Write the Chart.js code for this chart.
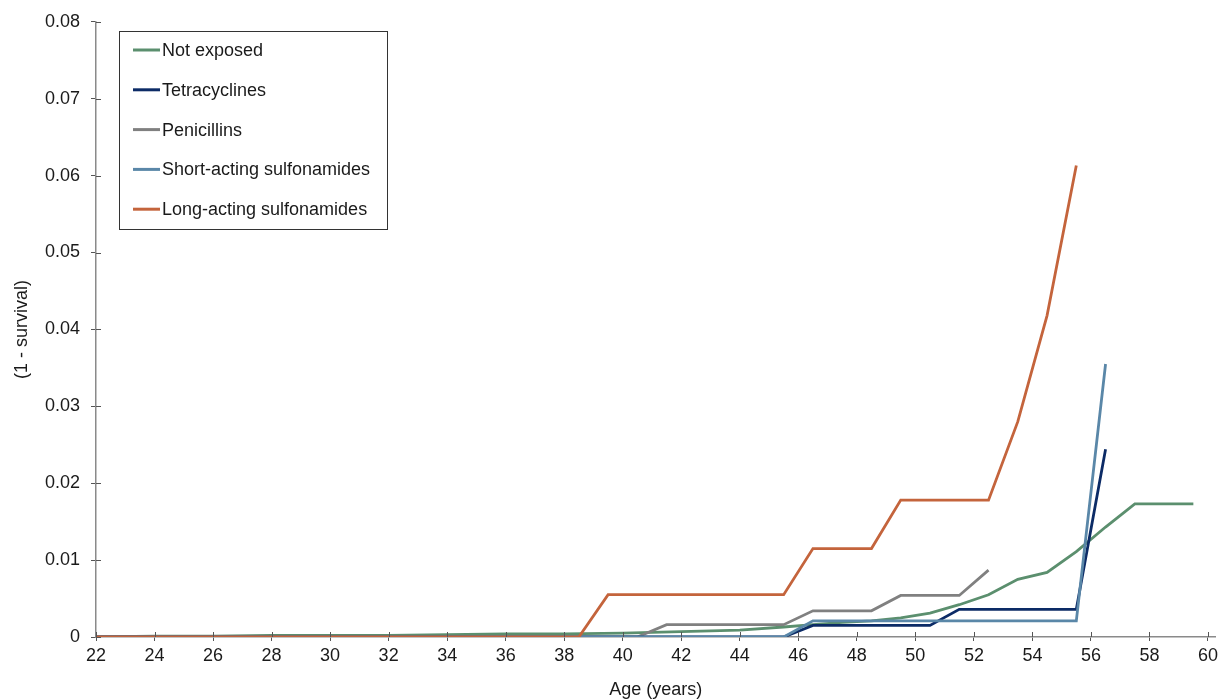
<!DOCTYPE html>
<html>
<head>
<meta charset="utf-8">
<script src="https://cdn.jsdelivr.net/npm/chart.js@4"></script>
<style>
  html, body { margin: 0; padding: 0; background: #fff; }
  #wrap { width: 1222px; height: 699px; position: relative; }
</style>
</head>
<body>
<div id="wrap"><canvas id="survival"></canvas></div>
<script>
// ---- data ----
const xTicks = [22, 24, 26, 28, 30, 32, 34, 36, 38, 40, 42, 44, 46, 48, 50, 52, 54, 56, 58, 60];

const notExposedAges = [22, 24, 26, 28, 30, 32, 34, 36, 38, 40, 42, 44, 45.5, 46.5, 47.5, 48.5, 49.5, 50.5, 51.5, 52.5, 53.5, 54.5, 55.5, 56.5, 57.5, 58.5, 59.5];
const notExposed = [0, 0.0001, 0.0001, 0.0002, 0.0002, 0.0002, 0.0003, 0.0004, 0.0004, 0.0005, 0.0007, 0.0009, 0.0013, 0.0016, 0.0019, 0.0021, 0.0025, 0.0031, 0.0042, 0.0055, 0.0075, 0.0084, 0.0111, 0.0143, 0.0173, 0.0173, 0.0173];

const tetraAges = [22, 45.5, 46.5, 50.5, 51.5, 55.5, 56.5];
const tetracyclines = [0, 0, 0.0015, 0.0015, 0.0036, 0.0036, 0.0244];

const peniAges = [22, 40.5, 41.5, 45.5, 46.5, 48.5, 49.5, 51.5, 52.5];
const penicillins = [0, 0, 0.0016, 0.0016, 0.0034, 0.0034, 0.0054, 0.0054, 0.0087];

const shortAges = [22, 45.5, 46.5, 55.5, 56.5];
const shortSulfa = [0, 0, 0.0021, 0.0021, 0.0355];

const longAges = [22, 38.5, 39.5, 45.5, 46.5, 48.5, 49.5, 52.5, 53.5, 54.5, 55.5];
const longSulfa = [0, 0, 0.0055, 0.0055, 0.0115, 0.0115, 0.0178, 0.0178, 0.0280, 0.0418, 0.0613];

const seriesLabels = ['Not exposed', 'Tetracyclines', 'Penicillins', 'Short-acting sulfonamides', 'Long-acting sulfonamides'];

const pts = (xs, ys) => xs.map((x, i) => ({ x, y: ys[i] }));
const FONT = 'Liberation Sans, Arial, sans-serif';
const AXIS = '#8a8a8a';
const TICK = '#555555';

// ticks that cross the axis line (outer half comes from Chart.js grid ticks)
const innerTicks = {
    id: 'innerTicks',
    afterDraw(chart) {
        const { ctx, chartArea, scales } = chart;
        ctx.save();
        ctx.strokeStyle = TICK;
        ctx.lineWidth = 1;
        ctx.beginPath();
        scales.x.ticks.forEach(t => {
            const px = Math.round(scales.x.getPixelForValue(t.value)) + 0.5;
            ctx.moveTo(px, chartArea.bottom);
            ctx.lineTo(px, chartArea.bottom - 5);
        });
        scales.y.ticks.forEach(t => {
            const py = Math.round(scales.y.getPixelForValue(t.value)) + 0.5;
            ctx.moveTo(chartArea.left, py);
            ctx.lineTo(chartArea.left + 5, py);
        });
        ctx.stroke();
        ctx.restore();
    }
};

// boxed legend inside the plot
const boxLegend = {
    id: 'boxLegend',
    afterDraw(chart) {
        const { ctx } = chart;
        const x0 = 119.5, y0 = 31.5, w = 268, h = 198;
        ctx.save();
        ctx.fillStyle = '#fff';
        ctx.fillRect(x0, y0, w, h);
        ctx.strokeStyle = '#333';
        ctx.lineWidth = 1;
        ctx.strokeRect(x0, y0, w, h);
        ctx.font = '18px ' + FONT;
        ctx.textBaseline = 'middle';
        ctx.textAlign = 'left';
        chart.data.datasets.forEach((ds, i) => {
            const y = 50 + i * 39.8;
            ctx.strokeStyle = ds.borderColor;
            ctx.lineWidth = 3;
            ctx.beginPath();
            ctx.moveTo(133, y);
            ctx.lineTo(160, y);
            ctx.stroke();
            ctx.fillStyle = '#1a1a1a';
            ctx.fillText(ds.label, 162, y + 1);
        });
        ctx.restore();
    }
};

const colors = ['#5b8f6e', '#0c2b66', '#808080', '#5a87a8', '#c4643c'];
const drawOrder = [4, 2, 3, 1, 0];
const dataSets = [
    pts(notExposedAges, notExposed),
    pts(tetraAges, tetracyclines),
    pts(peniAges, penicillins),
    pts(shortAges, shortSulfa),
    pts(longAges, longSulfa)
];

new Chart(document.getElementById('survival'), {
    type: 'line',
    data: {
        datasets: dataSets.map((d, i) => ({
            label: seriesLabels[i],
            data: d,
            borderColor: colors[i],
            backgroundColor: colors[i],
            borderWidth: 2.8,
            pointRadius: 0,
            tension: 0,
            fill: false,
            order: drawOrder[i]
        }))
    },
    options: {
        responsive: true,
        maintainAspectRatio: false,
        animation: false,
        layout: { padding: { top: 21, right: 0, left: 0, bottom: 0 } },
        scales: {
            x: {
                type: 'linear',
                min: 22, max: 60.25,
                afterBuildTicks: s => { s.ticks = xTicks.map(v => ({ value: v })); },
                afterFit: s => { s.height = 62; },
                border: { display: true, color: AXIS, width: 1.5 },
                grid: { display: true, drawOnChartArea: false, drawTicks: true, tickLength: 4, color: TICK },
                ticks: { color: '#1a1a1a', font: { family: FONT, size: 18 }, padding: 4, maxRotation: 0, autoSkip: false },
                title: { display: true, text: 'Age (years)', color: '#1a1a1a', font: { family: FONT, size: 18 }, padding: { top: 0, bottom: -2 } }
            },
            y: {
                min: 0, max: 0.08,
                ticks: { stepSize: 0.01, color: '#1a1a1a', font: { family: FONT, size: 18 }, padding: 11 },
                afterFit: s => { s.width = 96; },
                border: { display: true, color: AXIS, width: 1.5 },
                grid: { display: true, drawOnChartArea: false, drawTicks: true, tickLength: 5, color: TICK },
                title: { display: true, text: '(1 - survival)', color: '#1a1a1a', font: { family: FONT, size: 18 }, padding: { top: 11, bottom: 0 } }
            }
        },
        plugins: { legend: { display: false }, tooltip: { enabled: false } }
    },
    plugins: [innerTicks, boxLegend]
});
</script>
</body>
</html>
